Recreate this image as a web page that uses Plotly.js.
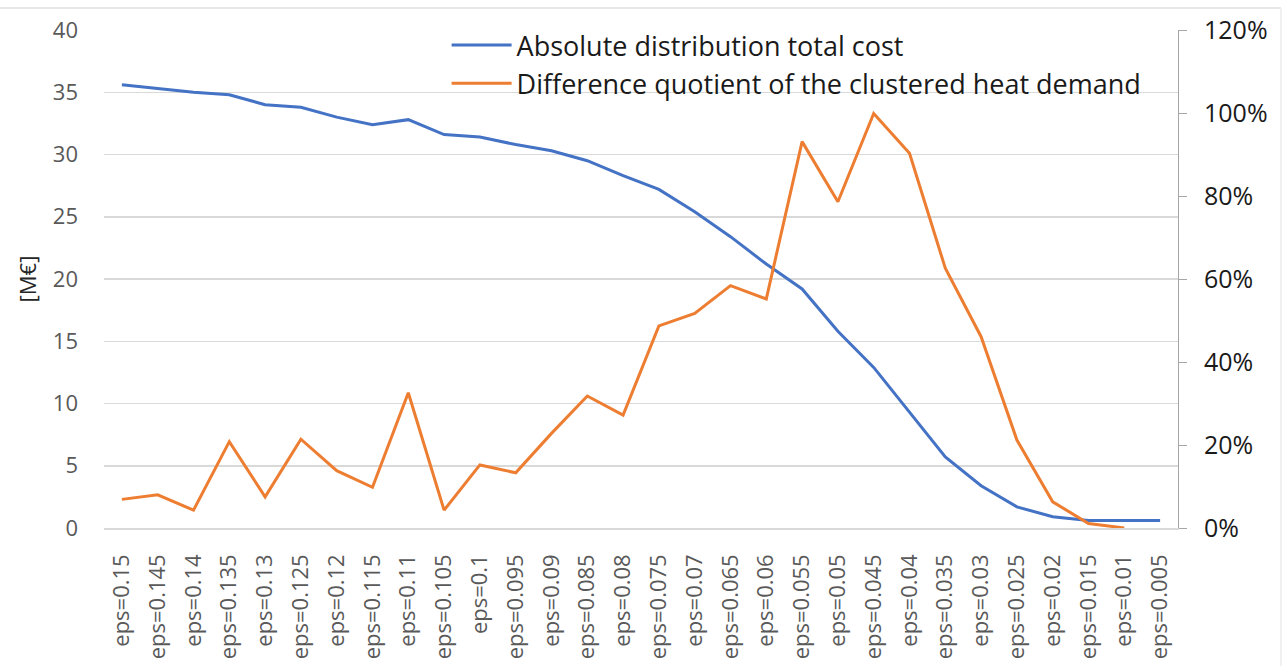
<!DOCTYPE html>
<html>
<head>
<meta charset="utf-8">
<script src="https://cdn.plot.ly/plotly-3.0.1.min.js"></script>
<style>html,body{margin:0;padding:0;background:#fff;}#chart{width:1287px;height:666px;}</style>
</head>
<body>
<div id="chart"></div>
<script>
const categories = ["eps=0.15","eps=0.145","eps=0.14","eps=0.135","eps=0.13","eps=0.125","eps=0.12","eps=0.115","eps=0.11","eps=0.105","eps=0.1","eps=0.095","eps=0.09","eps=0.085","eps=0.08","eps=0.075","eps=0.07","eps=0.065","eps=0.06","eps=0.055","eps=0.05","eps=0.045","eps=0.04","eps=0.035","eps=0.03","eps=0.025","eps=0.02","eps=0.015","eps=0.01","eps=0.005"];
const totalCost = [35.6,35.3,35.0,34.8,34.0,33.8,33.0,32.4,32.8,31.6,31.4,30.8,30.3,29.5,28.3,27.2,25.4,23.4,21.2,19.2,15.8,12.9,9.3,5.7,3.4,1.7,0.9,0.6,0.6,0.6];
const diffQuotient = [0.069,0.080,0.043,0.208,0.075,0.214,0.138,0.098,0.326,0.043,0.152,0.133,0.228,0.318,0.272,0.487,0.517,0.584,0.552,0.931,0.786,0.999,0.903,0.626,0.461,0.212,0.063,0.011,0.0,null];
const seriesNames = ["Absolute distribution total cost","Difference quotient of the clustered heat demand"];
const leftTicks = [0,5,10,15,20,25,30,35,40];
const rightTicks = [0,0.2,0.4,0.6,0.8,1.0,1.2];
const rightTickText = ["0%","20%","40%","60%","80%","100%","120%"];

const font = "'Open Sans', Lato, sans-serif";
const traces = [
  {x: categories, y: totalCost, name: seriesNames[0], type: "scatter", mode: "lines",
   line: {color: "#4472C4", width: 3}, yaxis: "y"},
  {x: categories, y: diffQuotient, name: seriesNames[1], type: "scatter", mode: "lines",
   line: {color: "#ED7D31", width: 3}, yaxis: "y2", connectgaps: false}
];
const layout = {
  width: 1287, height: 666,
  margin: {l: 104, r: 109, t: 30, b: 138},
  paper_bgcolor: "#fff", plot_bgcolor: "#fff",
  font: {family: font, color: "#595959"},
  showlegend: true,
  legend: {x: 0.319, y: 1.018, xanchor: "left", yanchor: "top", bgcolor: "rgba(0,0,0,0)",
    font: {family: font, size: 27, color: "#1a1a1a"}, tracegroupgap: 0, itemwidth: 60},
  xaxis: {type: "category", tickangle: -90, tickfont: {family: font, size: 22, color: "#595959"},
    showgrid: false, showline: true, linecolor: "#d9d9d9", linewidth: 1.5, ticks: "",
    ticklabelstandoff: 16, range: [-0.5, 29.5], fixedrange: true},
  yaxis: {range: [0, 40], tickvals: leftTicks, showgrid: true, gridcolor: "#d9d9d9", gridwidth: 1.5,
    zeroline: false, showline: false, ticks: "", ticklen: 0, ticklabelstandoff: 25,
    tickfont: {family: font, size: 22, color: "#595959"},
    title: {text: "[M€]", font: {family: font, size: 22, color: "#262626"}, standoff: 10}},
  yaxis2: {overlaying: "y", side: "right", range: [0, 1.2], tickvals: rightTicks, ticktext: rightTickText,
    showgrid: false, zeroline: false, showline: true, linecolor: "#a6a6a6", linewidth: 1,
    ticks: "outside", ticklen: 8, tickcolor: "#a6a6a6", ticklabelstandoff: 12,
    tickfont: {family: font, size: 25, color: "#1a1a1a"}},
  shapes: [
    {type: "line", xref: "paper", yref: "paper", x0: -0.1, x1: 1.0959, y0: 1.0442, y1: 1.0442,
     line: {color: "#e0e0e0", width: 1.5}},
    {type: "line", xref: "paper", yref: "paper", x0: 1.0959, x1: 1.0959, y0: 1.0442, y1: -0.3,
     line: {color: "#ececec", width: 1.5}}
  ]
};
Plotly.newPlot("chart", traces, layout, {displayModeBar: false, staticPlot: true});
</script>
</body>
</html>
